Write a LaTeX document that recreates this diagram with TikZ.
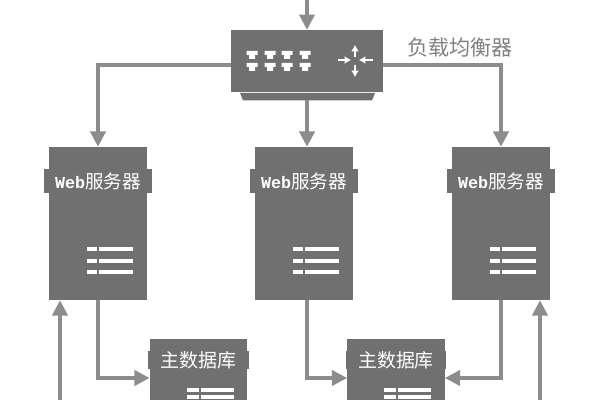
\documentclass[tikz,border=0pt]{standalone}
\usepackage{fontspec}
\setmainfont{Noto Sans CJK SC}
\newfontfamily\webfont[Scale=0.9]{Liberation Mono}
\usetikzlibrary{arrows.meta}

\definecolor{boxgray}{HTML}{707070}
\definecolor{linegray}{HTML}{8C8C8C}
\definecolor{labelgray}{HTML}{808080}

\tikzset{
    serverbox/.style={fill=boxgray, minimum width=2.45cm, minimum height=3.825cm, inner sep=0pt},
    webtab/.style={fill=boxgray, text=white, font=\fontsize{13.2}{14}\selectfont, minimum width=2.7cm, minimum height=0.59cm, inner sep=0pt},
    dbbox/.style={fill=boxgray, minimum width=2.43cm, minimum height=1.95cm, inner sep=0pt},
    dbtab/.style={fill=boxgray, text=white, font=\fontsize{13.5}{14}\selectfont, minimum width=2.5cm, minimum height=0.4cm, inner sep=0pt},
    link/.style={draw=linegray, line width=0.08cm, ->},
    bars/.style={white, line width=0.1cm},
    turn/.style={white, line width=0.05cm, -{Latex[length=0.16cm, width=0.2cm]}}
}

\begin{document}
\begin{tikzpicture}[x=0.025cm, y=-0.025cm, >={Triangle[length=0.38cm, width=0.38cm]}]

\useasboundingbox (0,0) rectangle (600,400);
\clip (0,0) rectangle (600,400);

% Load balancer
\node[fill=boxgray, minimum width=3.8cm, minimum height=1.55cm, inner sep=0pt] (lb) at (307,61) {};
\fill[boxgray] (240,93) -- (375,93) -- (372,100.5) -- (243,100.5) -- cycle;
\node[text=labelgray, font=\fontsize{15}{16}\selectfont] (lblabel) at (460,47) {负载均衡器};

% Ports
\foreach \x in {252,270,287,305}
{
    \foreach \y in {51,63}
    {
        \fill[white, shift={(\x,\y)}] (-5.5,0) -- (5.5,0) -- (5.5,4) -- (3,4) -- (3,8) -- (-3,8) -- (-3,4) -- (-5.5,4) -- cycle;
    }
}

% Direction arrows
\draw[turn] (355,57) -- (355,45);
\draw[turn] (355,65) -- (355,77);
\draw[turn] (338,60) -- (351,60);
\draw[turn] (373,60) -- (359,60);

% Web servers
\node[serverbox] (web1) at (98,223.5) {};
\node[serverbox] (web2) at (304,223.5) {};
\node[serverbox] (web3) at (501,223.5) {};

\node[webtab] (tab1) at (98,181) {{\webfont\bfseries Web}服务器};
\node[webtab] (tab2) at (304,181) {{\webfont\bfseries Web}服务器};
\node[webtab] (tab3) at (501,181) {{\webfont\bfseries Web}服务器};

\foreach \x in {49,255,452}
{
    \foreach \y in {249.5,261,272.5}
    {
        \draw[bars] (\x+38,\y) -- (\x+48,\y);
        \draw[bars] (\x+50,\y) -- (\x+84,\y);
    }
}

% Databases
\node[dbbox] (db1) at (198.5,378) {};
\node[dbbox] (db2) at (396,378) {};

\node[dbtab] (dbtab1) at (198.5,360) {主数据库};
\node[dbtab] (dbtab2) at (396,360) {主数据库};

\foreach \x in {150,347}
{
    \foreach \y in {390,397}
    {
        \draw[bars, line width=0.075cm] (\x+37,\y) -- (\x+49,\y);
        \draw[bars, line width=0.075cm] (\x+51,\y) -- (\x+84,\y);
    }
}

% Free ends
\coordinate (entry) at (307,0);
\coordinate (lbleft) at (231,65);
\coordinate (lbright) at (383,65);
\coordinate (lbbase) at (307,100);
\coordinate (in1) at (60,400);
\coordinate (in3) at (540,400);

% Links
\draw[link] (entry) -- (lb.north);
\draw[link] (lbleft) -| (web1.north);
\draw[link] (lbbase) -- (lbbase |- web2.north);
\draw[link] (lbright) -| (web3.north);

\draw[link] (web1.south) |- (db1.west);
\draw[link] (web2.south -| lb.south) |- (db2.west);
\draw[link] (web3.south) |- (db2.east);

\draw[link] (in1) -- (in1 |- web1.south);
\draw[link] (in3) -- (in3 |- web3.south);

\end{tikzpicture}
\end{document}
